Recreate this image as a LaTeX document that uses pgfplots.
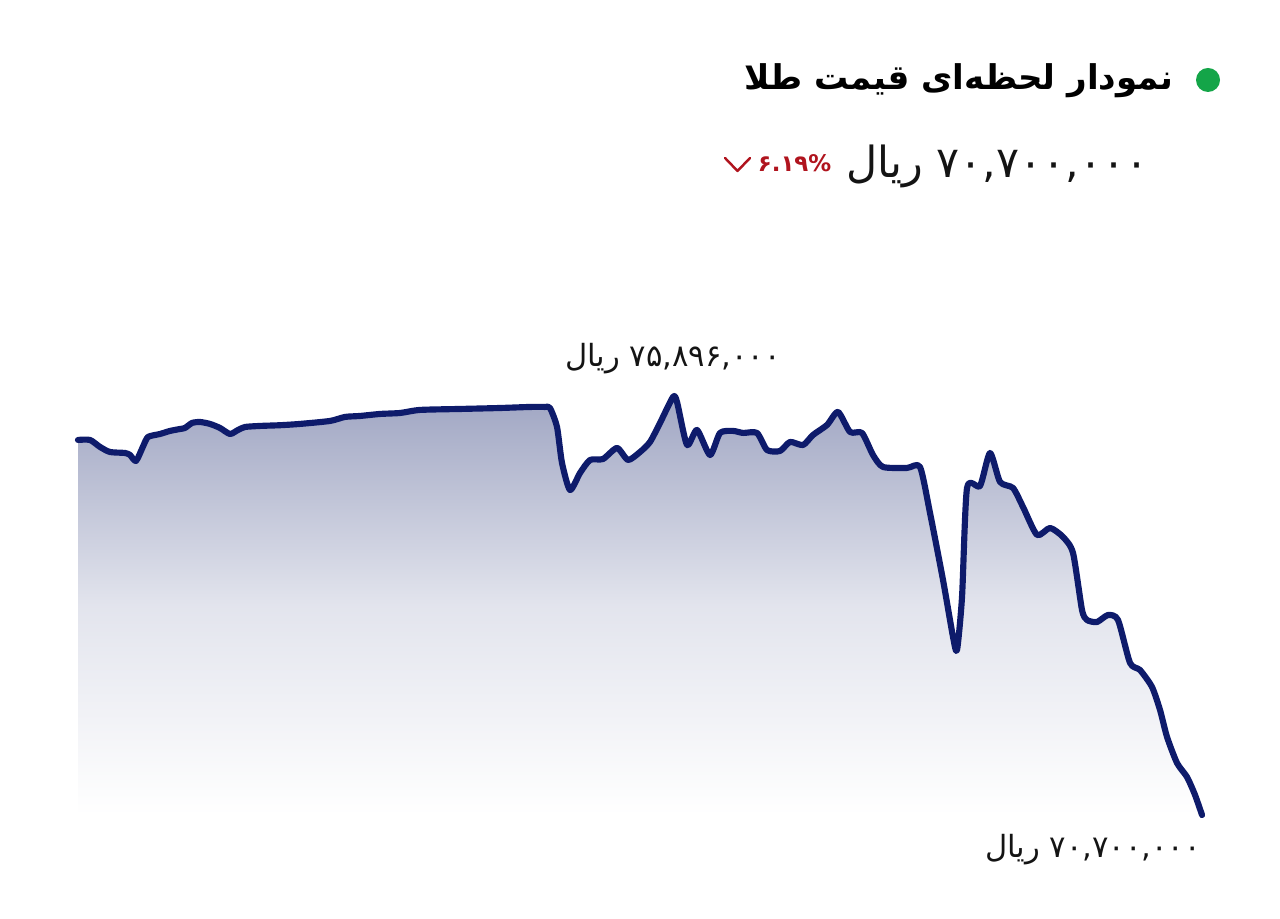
\documentclass[border=0pt]{standalone}
\usepackage{fontspec}
\usepackage{pgfplots}
\pgfplotsset{compat=1.18}
\usepackage{pgfplotstable}
\TeXXeTstate=1
\newfontfamily\arabicfont[Script=Arabic]{DejaVu Sans}
\definecolor{linec}{RGB}{14,27,107}
\definecolor{fillc}{RGB}{160,166,195}
\definecolor{dotc}{RGB}{20,165,72}
\definecolor{redc}{RGB}{176,20,30}
\definecolor{textc}{RGB}{20,20,20}

\pgfplotstableread{
x y
78 75.362
90 75.362
100 75.275
110 75.212
125 75.200
130 75.175
136 75.101
143 75.280
148 75.399
160 75.436
170 75.474
180 75.498
185 75.511
192 75.573
200 75.585
210 75.561
220 75.511
230 75.436
238 75.486
245 75.523
260 75.536
280 75.545
300 75.561
330 75.598
345 75.648
360 75.660
380 75.685
400 75.697
420 75.735
460 75.747
500 75.759
530 75.772
545 75.772
550 75.759
557 75.523
562 75.076
570 74.740
580 74.951
590 75.113
603 75.125
617 75.262
628 75.113
640 75.212
650 75.337
660 75.573
673 75.896
677 75.834
687 75.299
697 75.486
710 75.175
720 75.449
733 75.474
743 75.449
757 75.449
767 75.237
780 75.225
790 75.337
803 75.299
813 75.424
827 75.548
838 75.710
850 75.461
862 75.449
873 75.175
883 75.026
907 75.014
920 75.026
930 74.454
943 73.621
953 72.913
957 72.751
962 73.410
967 74.765
980 74.790
990 75.200
1000 74.840
1013 74.765
1023 74.529
1037 74.181
1050 74.268
1063 74.156
1073 73.957
1082 73.248
1087 73.124
1097 73.099
1108 73.186
1118 73.124
1130 72.590
1140 72.502
1152 72.291
1160 72.005
1167 71.670
1177 71.346
1187 71.172
1195 70.949
1202 70.700
}\gold

\begin{document}
\begin{tikzpicture}
\useasboundingbox (0,0) rectangle (128mm,91.9mm);
\begin{axis}[
  at={(7.8mm,10.4mm)}, anchor=south west,
  scale only axis, width=112.4mm, height=41.8mm,
  xmin=78, xmax=1202, ymin=70.7, ymax=75.896,
  hide axis, clip=false]
\addplot[draw=none, top color=fillc, bottom color=white, middle color=fillc!30!white] table[x=x,y=y] {\gold} -- (axis cs:78,70.7) -- cycle;
\addplot[linec, line width=1.75pt, line join=round, line cap=round, smooth, tension=0.4] table[x=x,y=y] {\gold};
\node[anchor=base, inner sep=0, font=\arabicfont\fontsize{8.7}{10}\selectfont, text=textc] at (axis cs:673,75.896) [yshift=3mm] {\beginR ریال\endR\ ۷۵,۸۹۶,۰۰۰};
\node[anchor=base, inner sep=0, font=\arabicfont\fontsize{8.7}{10}\selectfont, text=textc] at (axis cs:1093,70.7) [yshift=-4.3mm] {\beginR ریال\endR\ ۷۰,۷۰۰,۰۰۰};
\end{axis}
\fill[dotc] (120.8mm,83.9mm) circle (1.2mm);
\node[anchor=base east, inner sep=0, font=\arabicfont\bfseries\fontsize{9.7}{12}\selectfont, text=black] at (117.4mm,82.9mm) {\beginR نمودار لحظه‌ای قیمت طلا\endR};
\node[anchor=base east, inner sep=0, font=\arabicfont\fontsize{12.2}{14}\selectfont, text=textc] at (114.9mm,74.1mm) {\beginR ریال\endR\ ۷۰,۷۰۰,۰۰۰};
\node[anchor=base east, inner sep=0, font=\arabicfont\bfseries\fontsize{6.5}{8}\selectfont, text=redc] at (83.2mm,74.7mm) {۶.۱۹\%};
\draw[redc, line width=0.7pt, line cap=round, line join=round] (72.5mm,76.1mm) -- (73.75mm,74.8mm) -- (75mm,76.1mm);
\end{tikzpicture}
\end{document}
